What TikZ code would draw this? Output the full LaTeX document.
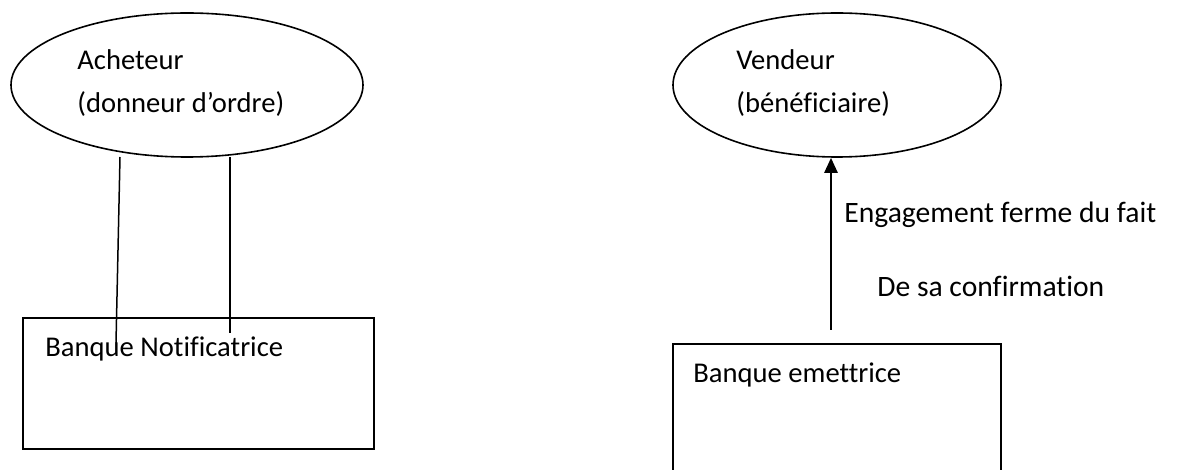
\documentclass[tikz,border=0pt]{standalone}
\usepackage{fontspec}
\setmainfont{Carlito}[Ligatures={NoCommon}]
\usetikzlibrary{shapes.geometric,arrows.meta}
\tikzset{
  party/.style={draw, ellipse, line width=0.8pt, inner sep=0pt},
  bank/.style={draw, rectangle, line width=0.8pt, inner sep=0pt},
  lbl/.style={anchor=base west, inner sep=0pt, font=\fontsize{14.3pt}{17pt}\selectfont},
  note/.style={anchor=base west, inner sep=0pt, font=\fontsize{14.8pt}{18pt}\selectfont},
  link/.style={line width=0.75pt},
  flow/.style={line width=1.25pt, -{Triangle[length=7.5pt,width=6.5pt]}}
}
\begin{document}
\begin{tikzpicture}[x=0.5pt,y=-0.5pt]
\clip (0,0) rectangle (1200,470);
\fill[white] (0,0) rectangle (1200,470);

% buyer side
\node[party, minimum width=176pt, minimum height=72pt] (buyer) at (187,85) {};
\node[lbl] (buyerA) at (77,70) {Acheteur};
\node[lbl] (buyerB) at (77,113) {(donneur d’ordre)};

\node[bank, minimum width=175.5pt, minimum height=65.5pt] (notif) at (198.5,383.5) {};
\node[lbl] (notifT) at (45,357) {Banque Notificatrice};

\coordinate (l1a) at (120,157);
\coordinate (l1b) at (116,343);
\coordinate (l2a) at (230,157);
\coordinate (l2b) at (230,333);
\draw[link] (l1a) -- (l1b);
\draw[link] (l2a) -- (l2b);

% seller side
\node[party, minimum width=164pt, minimum height=72pt] (seller) at (837,85) {};
\node[lbl] (sellerA) at (736,70) {Vendeur};
\node[lbl] (sellerB) at (736,113) {(bénéficiaire)};

\node[bank, minimum width=164pt, minimum height=80pt] (emit) at (837,424) {};
\node[lbl] (emitT) at (693,383) {Banque emettrice};

\coordinate (arr) at (831,330);
\draw[flow] (arr) -- (arr |- seller.south);

\node[note] (eng1) at (844,223) {Engagement ferme du fait};
\node[note] (eng2) at (877,297) {De sa confirmation};
\end{tikzpicture}
\end{document}
